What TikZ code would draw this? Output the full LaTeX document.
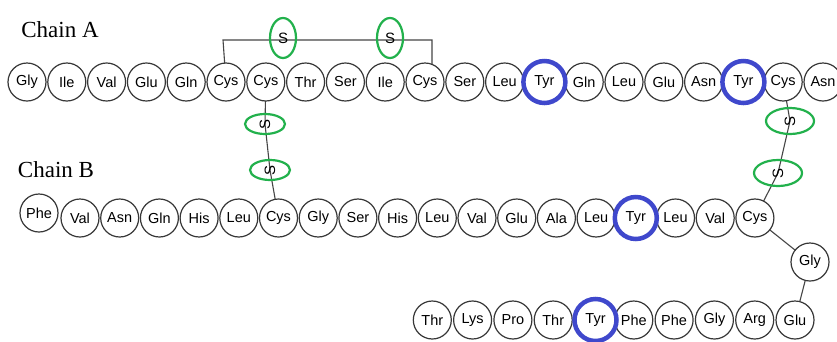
\documentclass[tikz,border=0pt]{standalone}
\usepackage{fontspec}
\setmainfont{Liberation Serif}
\setsansfont{Liberation Sans}
\usetikzlibrary{shapes.geometric,backgrounds}
\definecolor{tyrblue}{RGB}{63,72,204}
\definecolor{sgreen}{RGB}{34,177,76}
\definecolor{ringgray}{RGB}{55,55,55}
\definecolor{linkgray}{RGB}{70,70,70}
\begin{document}
\begin{tikzpicture}[x=1pt,y=-1pt,
  res/.style={circle,draw=ringgray,line width=1.2pt,fill=white,minimum size=38pt,inner sep=0pt,
    font=\sffamily\fontsize{14.5}{14.5}\selectfont},
  tyr/.style={res,draw=tyrblue,line width=4.5pt,minimum size=42pt},
  sv/.style={ellipse,draw=sgreen,line width=2.2pt,minimum width=26pt,minimum height=40pt,inner sep=0pt,
    font=\sffamily\fontsize{15}{15}\selectfont},
  sh/.style={ellipse,draw=sgreen,line width=2.2pt,rotate=90,minimum width=20pt,minimum height=40pt,inner sep=0pt,
    font=\sffamily\fontsize{15}{15}\selectfont},
  shb/.style={sh,minimum width=26pt,minimum height=48pt},
  link/.style={draw=linkgray,line width=1.1pt},
  lab/.style={font=\fontsize{23}{23}\selectfont}
]
\useasboundingbox (0,0) rectangle (837,341);

% Chain A
\foreach \n/\i in {Gly/0,Ile/1,Val/2,Glu/3,Gln/4,Cys/5,Cys/6,Thr/7,Ser/8,Ile/9,Cys/10,Ser/11,Leu/12,Gln/14,Leu/15,Glu/16,Asn/17,Cys/19,Asn/20}
  \node[res] (a\i) at ({27+39.8*\i},82) {\n};
\node[tyr] (a13) at (544.4,82) {Tyr};
\node[tyr] (a18) at (743.4,82) {Tyr};

% Chain B
\node[res] (b0) at (39,213) {Phe};
\foreach \n/\i in {Val/1,Asn/2,Gln/3,His/4,Leu/5,Cys/6,Gly/7,Ser/8,His/9,Leu/10,Val/11,Glu/12,Ala/13,Leu/14,Leu/16,Val/17,Cys/18}
  \node[res] (b\i) at ({80+39.7*(\i-1)},218) {\n};
\node[tyr] (b15) at (635.8,218) {Tyr};
\node[res] (b19) at (810,262) {Gly};
\foreach \n/\i in {Glu/20,Arg/21,Gly/22,Phe/23,Phe/24,Thr/26,Pro/27,Lys/28,Thr/29}
  \node[res] (b\i) at ({795-40.3*(\i-20)},320) {\n};
\node[tyr] (b25) at (595.5,320) {Tyr};

% disulfide sulfur atoms
\node[sv] (sA1) at (283,38) {S};
\node[sv] (sA2) at (390,38) {S};
\node[sh] (sL1) at (265,124) {S};
\node[sh] (sL2) at (270,170) {S};
\node[shb] (sR1) at (790,121) {S};
\node[shb] (sR2) at (778,173) {S};

% labels
\node[lab] (chA) at (60,30) {Chain A};
\node[lab] (chB) at (56,170) {Chain B};

\coordinate (brk) at (223,40);

\begin{scope}[on background layer]
  \fill[white] (0,0) rectangle (837,341);
  \draw[link] (a5.center) -- (brk) -| ([xshift=7pt]a10.center);
  \draw[link] (a6.center) -- (sL1.center) -- (sL2.center) -- (b6.center);
  \draw[link] (a19.center) -- (sR1.center) -- (sR2.center) -- (b18.center);
  \draw[link] (b18.center) -- (b19.center) -- (b20.center);
\end{scope}
\end{tikzpicture}
\end{document}
